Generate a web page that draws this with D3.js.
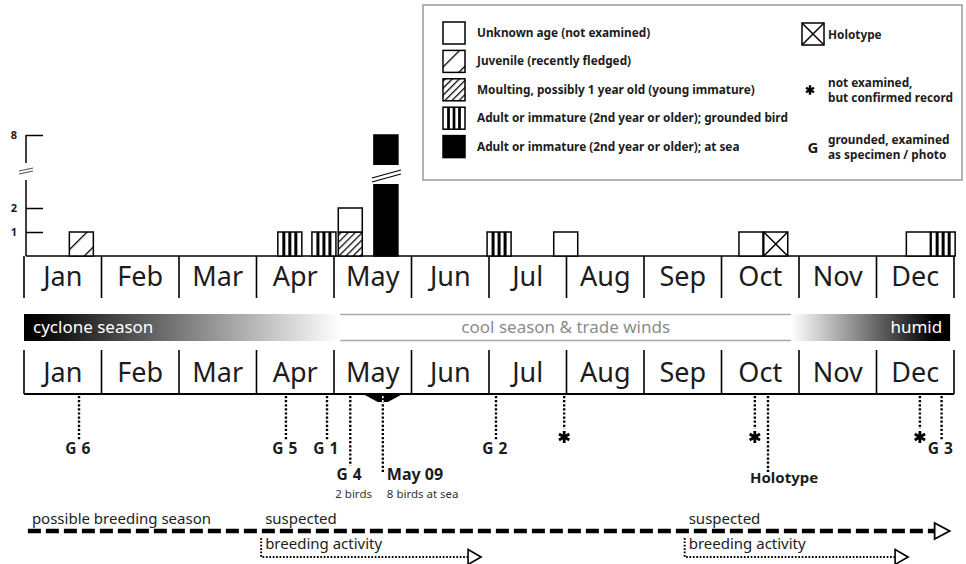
<!DOCTYPE html>
<html>
<head>
<meta charset="utf-8">
<script src="https://cdn.jsdelivr.net/npm/d3@7"></script>
<style>
  body { margin: 0; background: #fff; }
  svg { display: block; font-family: "Noto Sans", sans-serif; }
</style>
</head>
<body>
<svg id="chart" width="966" height="564"></svg>
<script>
const months = ["Jan", "Feb", "Mar", "Apr", "May", "Jun", "Jul", "Aug", "Sep", "Oct", "Nov", "Dec"];
const yTicks = [1, 2, 8];

// records shown as bars: month index, place inside the month (0..1), kind, birds
const recMonth = [0, 3, 3, 4, 4, 4, 6, 6, 9, 9, 11, 11];
const recPos   = [0.74, 0.43, 0.87, 0.21, 0.21, 0.67, 0.13, 0.99, 0.38, 0.70, 0.54, 0.86];
const recType  = ["juvenile", "grounded", "grounded", "moulting", "unknown", "sea",
                  "grounded", "unknown", "unknown", "holotype", "unknown", "grounded"];
const recCount = [1, 1, 1, 1, 1, 8, 1, 1, 1, 1, 1, 1];

// markers under the second month row
const markMonth = [0, 3, 3, 4, 4, 6, 6, 9, 9, 11, 11];
const markPos   = [0.71, 0.38, 0.91, 0.21, 0.63, 0.09, 0.97, 0.43, 0.60, 0.56, 0.84];
const markKind  = ["G", "G", "G", "G", "date", "G", "star", "star", "holotype", "star", "G"];
const markLabel = ["6", "5", "1", "4", "May 09", "2", "", "", "Holotype", "", "3"];
const markNote  = ["", "", "", "2 birds", "8 birds at sea", "", "", "", "", "", ""];

// seasons band
const seasonName  = ["cyclone season", "cool season & trade winds", "humid"];
const seasonStart = [[0, 0], [4, 0.08], [9, 0.90]];
const seasonEnd   = [[4, 0.08], [9, 0.90], [11, 0.95]];
const seasonStyle = ["fadeOut", "plain", "fadeIn"];

// breeding periods
const breedName  = ["possible breeding season", "suspected|breeding activity", "suspected|breeding activity"];
const breedStart = [[0, 0.05], [3, 0.06], [8, 0.525]];
const breedEnd   = [[11, 0.75], [5, 0.73], [11, 0.24]];
const breedStyle = ["dashed", "dotted", "dotted"];

// legend
const legendKind = ["unknown", "juvenile", "moulting", "grounded", "sea"];
const legendText = ["Unknown age (not examined)", "Juvenile (recently fledged)",
  "Moulting, possibly 1 year old (young immature)",
  "Adult or immature (2nd year or older); grounded bird",
  "Adult or immature (2nd year or older); at sea"];

const ink = "#1c1c1c";
const svg = d3.select("#chart");

const x = d3.scaleBand().domain(months).range([24, 954]);
const xAt = (m, f) => x(months[m]) + f * x.bandwidth();
const y = d3.scaleLinear().domain([0, 3, 7, 8]).range([256, 184, 160, 135]);
const brk = y(5);

// patterns
const defs = svg.append("defs");
function hatch(id, gap) {
  const p = defs.append("pattern").attr("id", id).attr("patternUnits", "userSpaceOnUse")
    .attr("width", gap).attr("height", gap).attr("patternTransform", "rotate(45)");
  p.append("rect").attr("width", gap).attr("height", gap).attr("fill", "#fff");
  p.append("line").attr("x1", 0.6).attr("x2", 0.6).attr("y1", 0).attr("y2", gap)
    .attr("stroke", "#000").attr("stroke-width", 1.3);
}
hatch("juv", 15);
hatch("moult", 5);
function grad(id, stops) {
  const g = defs.append("linearGradient").attr("id", id);
  stops.forEach(s => g.append("stop").attr("offset", s[0]).attr("stop-color", s[1]));
}
grad("fadeOut", [[0, "#000"], [0.05, "#050505"], [1, "#fff"]]);
grad("fadeIn", [[0, "#fff"], [0.9, "#000"], [1, "#000"]]);

function drawBox(g, type, x0, y0, w, h) {
  const fill = { unknown: "#fff", holotype: "#fff", grounded: "#fff", sea: "#000",
                 juvenile: "url(#juv)", moulting: "url(#moult)" }[type];
  g.append("rect").attr("x", x0).attr("y", y0).attr("width", w).attr("height", h)
    .attr("fill", fill).attr("stroke", "#000").attr("stroke-width", 1.5);
  if (type === "grounded") {
    for (let i = 1; i <= 3; i++) {
      g.append("line").attr("x1", x0 + w * i / 4).attr("x2", x0 + w * i / 4)
        .attr("y1", y0).attr("y2", y0 + h).attr("stroke", "#000").attr("stroke-width", w / 8);
    }
  }
  if (type === "holotype") {
    g.append("path").attr("d", `M${x0},${y0}L${x0 + w},${y0 + h}M${x0 + w},${y0}L${x0},${y0 + h}`)
      .attr("stroke", "#000").attr("stroke-width", 1.5);
  }
}

// ---- legend ----
const lg = svg.append("g");
lg.append("rect").attr("x", 423).attr("y", 5).attr("width", 539).attr("height", 175)
  .attr("fill", "#fff").attr("stroke", "#9a9a9a").attr("stroke-width", 1.5);
legendKind.forEach((k, i) => {
  const yy = 22 + i * 28.4;
  drawBox(lg, k, 443, yy, 22, 22);
  lg.append("text").attr("x", 477).attr("y", yy + 15).attr("font-size", 11.8)
    .attr("font-weight", 700).attr("fill", ink).text(legendText[i]);
});
drawBox(lg, "holotype", 802, 23, 22, 22);
lg.append("text").attr("x", 828).attr("y", 39).attr("font-size", 11.8).attr("font-weight", 700)
  .attr("fill", ink).text("Holotype");
lg.append("path").attr("d", d3.symbol(d3.symbolAsterisk, 60)()).attr("transform", "translate(810,90)")
  .attr("stroke", "#000").attr("stroke-width", 2.4);
lg.append("text").attr("x", 828).attr("y", 87).attr("font-size", 11.8).attr("font-weight", 700)
  .attr("fill", ink).text("not examined,");
lg.append("text").attr("x", 828).attr("y", 102).attr("font-size", 11.8).attr("font-weight", 700)
  .attr("fill", ink).text("but confirmed record");
lg.append("text").attr("x", 813).attr("y", 153).attr("text-anchor", "middle").attr("font-size", 15)
  .attr("font-weight", 700).attr("fill", ink).text("G");
lg.append("text").attr("x", 828).attr("y", 144).attr("font-size", 11.8).attr("font-weight", 700)
  .attr("fill", ink).text("grounded, examined");
lg.append("text").attr("x", 828).attr("y", 159).attr("font-size", 11.8).attr("font-weight", 700)
  .attr("fill", ink).text("as specimen / photo");

// ---- upper month row with bars ----
const bounds = months.map(m => x(m)).concat([x.range()[1]]);
const upper = svg.append("g");
upper.append("line").attr("x1", 26).attr("x2", x.range()[1]).attr("y1", y(0)).attr("y2", y(0))
  .attr("stroke", "#000").attr("stroke-width", 1.6);
upper.selectAll(".div").data(bounds).join("line")
  .attr("x1", d => d).attr("x2", d => d).attr("y1", y(0)).attr("y2", 298)
  .attr("stroke", "#000").attr("stroke-width", 1.6);
upper.selectAll(".mon").data(months).join("text")
  .attr("x", d => x(d) + x.bandwidth() / 2).attr("y", 286).attr("text-anchor", "middle")
  .attr("font-size", 27).attr("fill", ink).text(d => d);

// y axis with break
const yAxis = svg.append("g").attr("transform", "translate(26,0)")
  .call(d3.axisLeft(y).tickValues(yTicks).tickSize(-17).tickPadding(9).tickFormat(d3.format("d")))
  .call(g => g.select(".domain").remove());
yAxis.selectAll(".tick line").attr("stroke", "#000").attr("stroke-width", 1.5);
yAxis.selectAll(".tick text").attr("font-size", 11).attr("font-weight", 700)
  .attr("font-family", "Noto Sans, sans-serif").attr("fill", ink);
yAxis.append("line").attr("y1", y(8)).attr("y2", brk - 9).attr("stroke", "#000").attr("stroke-width", 1.5);
yAxis.append("line").attr("y1", brk + 8).attr("y2", y(0)).attr("stroke", "#000").attr("stroke-width", 1.5);
yAxis.append("path").attr("d", `M-7,${brk - 1}L7,${brk - 4}M-7,${brk + 2}L7,${brk - 1}`)
  .attr("stroke", "#555").attr("stroke-width", 1.2);

// bars, stacked when they share a date
const records = recType.map((t, i) => ({ m: recMonth[i], p: recPos[i], type: t, n: recCount[i] }));
const base = new Map();
records.forEach(r => {
  const k = r.m + ":" + r.p;
  r.y0 = base.get(k) || 0;
  r.y1 = r.y0 + r.n;
  base.set(k, r.y1);
});
const barW = 24;
const bars = svg.append("g");
records.forEach(r => {
  const cx = xAt(r.m, r.p);
  drawBox(bars, r.type, cx - barW / 2, y(r.y1), barW, y(r.y0) - y(r.y1));
  if (r.y1 > 5) {
    bars.append("rect").attr("x", cx - barW / 2 - 2).attr("y", brk - 7).attr("width", barW + 4)
      .attr("height", 19).attr("fill", "#fff");
    bars.append("path")
      .attr("d", `M${cx - 14},${brk + 6}L${cx + 15},${brk - 2}M${cx - 14},${brk + 10}L${cx + 15},${brk + 2}`)
      .attr("stroke", "#000").attr("stroke-width", 1.2);
  }
});

// ---- seasons band ----
const band = svg.append("g");
seasonName.forEach((name, i) => {
  const x0 = xAt(...seasonStart[i]), x1 = xAt(...seasonEnd[i]);
  if (seasonStyle[i] === "plain") {
    band.append("path").attr("d", `M${x0},314.5H${x1}M${x0},340.5H${x1}`)
      .attr("stroke", "#a8a8a8").attr("stroke-width", 1.3);
    band.append("text").attr("x", (x0 + x1) / 2).attr("y", 333).attr("text-anchor", "middle")
      .attr("font-size", 17).attr("fill", "#8c8c8c").text(name);
  } else {
    band.append("rect").attr("x", x0).attr("y", 314).attr("width", x1 - x0).attr("height", 27)
      .attr("fill", `url(#${seasonStyle[i]})`);
    const left = seasonStyle[i] === "fadeOut";
    band.append("text").attr("x", left ? x0 + 9 : x1 - 8).attr("y", 333)
      .attr("text-anchor", left ? "start" : "end").attr("font-size", 17).attr("fill", "#fff").text(name);
  }
});

// ---- lower month row ----
const lower = svg.append("g");
lower.append("line").attr("x1", x.range()[0]).attr("x2", x.range()[1]).attr("y1", 394).attr("y2", 394)
  .attr("stroke", "#000").attr("stroke-width", 1.8);
lower.selectAll(".div").data(bounds).join("line")
  .attr("x1", d => d).attr("x2", d => d).attr("y1", 350).attr("y2", 394)
  .attr("stroke", "#000").attr("stroke-width", 1.6);
lower.selectAll(".mon").data(months).join("text")
  .attr("x", d => x(d) + x.bandwidth() / 2).attr("y", 382).attr("text-anchor", "middle")
  .attr("font-size", 27).attr("fill", ink).text(d => d);

// ---- markers ----
const mk = svg.append("g");
const dots = { stroke: "#000", "stroke-width": 2.4, "stroke-dasharray": "2.2 1.9" };
markKind.forEach((kind, i) => {
  const mx = xAt(markMonth[i], markPos[i]);
  const note = markNote[i];
  const end = kind === "G" ? (note ? 466 : 440) : kind === "star" ? 429 : 474;
  const ln = mk.append("line").attr("x1", mx).attr("x2", mx).attr("y1", 396).attr("y2", end);
  Object.entries(dots).forEach(([k, v]) => ln.attr(k, v));
  if (kind === "date") {
    mk.append("path").attr("d", `M${mx - 18},395H${mx + 18}L${mx + 5},402H${mx - 5}Z`).attr("fill", "#000");
    mk.append("line").attr("x1", mx).attr("x2", mx).attr("y1", 396).attr("y2", 402)
      .attr("stroke", "#fff").attr("stroke-width", 1.6).attr("stroke-dasharray", "2.2 1.9");
  }
  if (kind === "G") {
    const by = note ? 480 : 454;
    mk.append("text").attr("x", mx - 2.5).attr("y", by).attr("text-anchor", "end")
      .attr("font-size", 15.5).attr("font-weight", 700).attr("fill", ink).text("G");
    mk.append("text").attr("x", mx + 2.5).attr("y", by)
      .attr("font-size", 15.5).attr("font-weight", 700).attr("fill", ink).text(markLabel[i]);
    if (note) mk.append("text").attr("x", mx - 15).attr("y", 498).attr("font-size", 11.5)
      .attr("fill", "#333").text(note);
  }
  if (kind === "date") {
    mk.append("text").attr("x", mx + 4).attr("y", 480).attr("font-size", 16).attr("font-weight", 700)
      .attr("fill", ink).text(markLabel[i]);
    mk.append("text").attr("x", mx + 4).attr("y", 498).attr("font-size", 11.5)
      .attr("fill", "#333").text(note);
  }
  if (kind === "star") {
    mk.append("path").attr("d", d3.symbol(d3.symbolAsterisk, 100)()).attr("transform", `translate(${mx},437)`)
      .attr("stroke", "#000").attr("stroke-width", 2.8);
  }
  if (kind === "holotype") {
    mk.append("text").attr("x", mx - 18).attr("y", 483).attr("font-size", 15).attr("font-weight", 700)
      .attr("fill", ink).text(markLabel[i]);
  }
});

// ---- breeding periods ----
const br = svg.append("g");
breedName.forEach((name, i) => {
  const x0 = xAt(...breedStart[i]), x1 = xAt(...breedEnd[i]);
  const lines = name.split("|");
  if (breedStyle[i] === "dashed") {
    br.append("line").attr("x1", x0).attr("x2", x1).attr("y1", 531).attr("y2", 531)
      .attr("stroke", "#000").attr("stroke-width", 4.5).attr("stroke-dasharray", "13 5");
    br.append("path").attr("d", `M${x1},${523}L${x1 + 15},531L${x1},${539}Z`)
      .attr("fill", "#fff").attr("stroke", "#000").attr("stroke-width", 1.8);
    br.append("text").attr("x", x0 + 4).attr("y", 524).attr("font-size", 15).attr("fill", ink).text(lines[0]);
  } else {
    br.append("path").attr("d", `M${x0},538V557H${x1}`).attr("fill", "none")
      .attr("stroke", "#000").attr("stroke-width", 2).attr("stroke-dasharray", "1.7 1.7");
    br.append("path").attr("d", `M${x1},${549.5}L${x1 + 13},557L${x1},${564.5}Z`)
      .attr("fill", "#fff").attr("stroke", "#000").attr("stroke-width", 1.6);
    br.append("text").attr("x", x0 + 4).attr("y", 524).attr("font-size", 15).attr("fill", ink).text(lines[0]);
    br.append("text").attr("x", x0 + 4).attr("y", 549).attr("font-size", 15).attr("fill", ink).text(lines[1]);
  }
});
</script>
</body>
</html>
